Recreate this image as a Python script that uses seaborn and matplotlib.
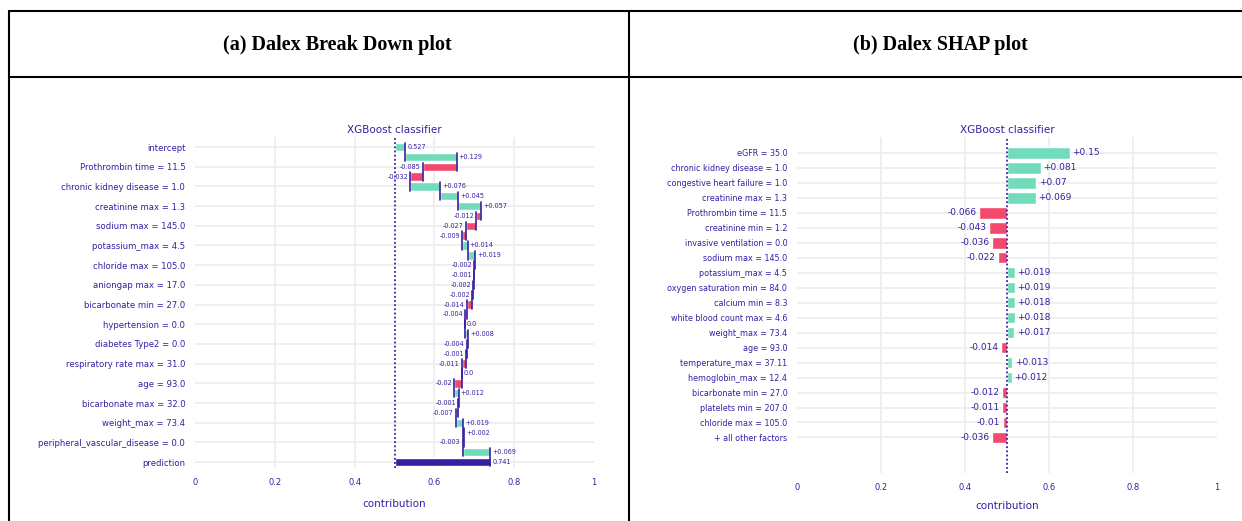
import numpy as np
import pandas as pd
import matplotlib.pyplot as plt
from matplotlib.lines import Line2D
import seaborn as sns

# break down data (33 steps, labels shown on every other row like plotly does)
bd_values = [0.527, 0.129, -0.085, -0.032, 0.076, 0.045, 0.057, -0.012, -0.027, -0.009,
             0.014, 0.019, -0.002, -0.001, -0.002, -0.002, -0.014, -0.004, 0.0, 0.008,
             -0.004, -0.001, -0.011, 0.0, -0.02, 0.012, -0.001, -0.007, 0.019, 0.002,
             -0.003, 0.069, 0.741]
bd_labels = ["intercept", "Prothrombin time = 11.5", "chronic kidney disease = 1.0",
             "creatinine max = 1.3", "sodium max = 145.0", "potassium_max = 4.5",
             "chloride max = 105.0", "aniongap max = 17.0", "bicarbonate min = 27.0",
             "hypertension = 0.0", "diabetes Type2 = 0.0", "respiratory rate max = 31.0",
             "age = 93.0", "bicarbonate max = 32.0", "weight_max = 73.4",
             "peripheral_vascular_disease = 0.0", "prediction"]

# shap data
shap_labels = ["eGFR = 35.0", "chronic kidney disease = 1.0", "congestive heart failure = 1.0",
               "creatinine max = 1.3", "Prothrombin time = 11.5", "creatinine min = 1.2",
               "invasive ventilation = 0.0", "sodium max = 145.0", "potassium_max = 4.5",
               "oxygen saturation min = 84.0", "calcium min = 8.3", "white blood count max = 4.6",
               "weight_max = 73.4", "age = 93.0", "temperature_max = 37.11",
               "hemoglobin_max = 12.4", "bicarbonate min = 27.0", "platelets min = 207.0",
               "chloride max = 105.0", "+ all other factors"]
shap_values = [0.15, 0.081, 0.07, 0.069, -0.066, -0.043, -0.036, -0.022, 0.019, 0.019,
               0.018, 0.018, 0.017, -0.014, 0.013, 0.012, -0.012, -0.011, -0.01, -0.036]

baseline = 0.5
xticks = [0, 0.2, 0.4, 0.6, 0.8, 1]
xticklabels = ["0", "0.2", "0.4", "0.6", "0.8", "1"]

POS = "#72dbbb"
NEG = "#f2496c"
DARK = "#371ea3"
GRID = "#eeeeee"

sns.set_style("white")
plt.rcParams['font.family'] = ['DejaVu Sans']


def fmt(v):
    return "0.0" if v == 0 else f"{v:+g}"


def style_axes(ax, ylim, labelpad):
    ax.set_xlim(0, 1)
    ax.set_ylim(*ylim)
    ax.set_xticks(xticks)
    ax.set_xticklabels(xticklabels, color=DARK, fontsize=6)
    ax.tick_params(axis='both', length=0, pad=7)
    for x in xticks[1:-1]:
        ax.axvline(x, color=GRID, lw=1.3, zorder=0)
    sns.despine(ax=ax, left=True, bottom=True)
    ax.set_xlabel("contribution", color=DARK, fontsize=7.5, labelpad=labelpad)
    ax.set_title("XGBoost classifier", color=DARK, fontsize=7.5, pad=3)


fig = plt.figure(figsize=(12.42, 5.21), dpi=100)

# ---- break down plot ----
ax1 = fig.add_axes([195 / 1242, 1 - 468 / 521, 399 / 1242, 331 / 521])
n = len(bd_values)
rows = np.arange(n)
starts, ends = [], []
cum = baseline
for i, v in enumerate(bd_values):
    if i == 0:
        s, e = baseline, v
        cum = v
    elif i == n - 1:
        s, e = baseline, v
    else:
        s, e = cum, cum + v
        cum = e
    starts.append(s)
    ends.append(e)
bd = pd.DataFrame({"row": rows, "start": starts, "end": ends, "value": bd_values})
colors = [DARK if i == n - 1 else (POS if v >= 0 else NEG) for i, v in enumerate(bd_values)]
colors[0] = POS
h1 = 0.85
ax1.barh(bd["row"], bd["end"] - bd["start"], left=bd["start"], height=h1, color=colors, zorder=2)
for i in range(n - 1):
    ax1.plot([bd["end"][i], bd["end"][i]], [i - h1 / 2, i + 1 + h1 / 2], color=DARK, lw=1.2, zorder=3)
for i, r in bd.iterrows():
    v = r["value"]
    if i == 0 or i == n - 1:
        txt, x, ha = f"{v:g}", r["end"] + 0.005, "left"
    elif v < 0:
        txt, x, ha = fmt(v), min(r["start"], r["end"]) - 0.005, "right"
    else:
        txt, x, ha = fmt(v), max(r["start"], r["end"]) + 0.005, "left"
    ax1.text(x, i, txt, ha=ha, va="center", fontsize=4.7, color=DARK, zorder=4)
ax1.axvline(baseline, color=DARK, lw=1.3, ls=(0, (1, 1.3)), zorder=3)
for y in rows[::2]:
    ax1.axhline(y, color=GRID, lw=1.3, zorder=0)
ax1.set_yticks(rows[::2])
ax1.set_yticklabels(bd_labels, color=DARK, fontsize=6.1)
style_axes(ax1, (32.6, -1.02), 9)

# ---- shap plot ----
ax2 = fig.add_axes([797 / 1242, 1 - 473 / 521, 420 / 1242, 336 / 521])
shap = pd.DataFrame({"label": shap_labels, "value": shap_values})
srows = np.arange(len(shap))
scol = [POS if v >= 0 else NEG for v in shap["value"]]
ax2.barh(srows, shap["value"], left=baseline, height=0.78, color=scol, zorder=2)
for i, v in enumerate(shap["value"]):
    if v >= 0:
        ax2.text(baseline + v + 0.006, i, fmt(v), ha="left", va="center", fontsize=6.5, color=DARK, zorder=4)
    else:
        ax2.text(baseline + v - 0.006, i, fmt(v), ha="right", va="center", fontsize=6.5, color=DARK, zorder=4)
ax2.axvline(baseline, color=DARK, lw=1.3, ls=(0, (1, 1.3)), zorder=3)
for y in srows:
    ax2.axhline(y, color=GRID, lw=1.3, zorder=0)
ax2.set_yticks(srows)
ax2.set_yticklabels(shap["label"], color=DARK, fontsize=5.8)
style_axes(ax2, (21.37, -1.05), 7)

# ---- table frame and headers ----
lw = 1.5
for (x0, y0, x1, y1) in [(8.5, 11, 1242, 11), (8.5, 77, 1242, 77), (9, 11, 9, 521), (629, 11, 629, 521)]:
    fig.add_artist(Line2D([x0 / 1242, x1 / 1242], [1 - y0 / 521, 1 - y1 / 521],
                          transform=fig.transFigure, color="black", lw=lw))
fig.text(337 / 1242, 1 - 45 / 521, "(a) Dalex Break Down plot", ha="center", va="center",
         fontsize=14.5, fontweight="bold", family="Liberation Serif", color="black")
fig.text(940 / 1242, 1 - 45 / 521, "(b) Dalex SHAP plot", ha="center", va="center",
         fontsize=14.5, fontweight="bold", family="Liberation Serif", color="black")

fig.savefig("out.png", dpi=100)
